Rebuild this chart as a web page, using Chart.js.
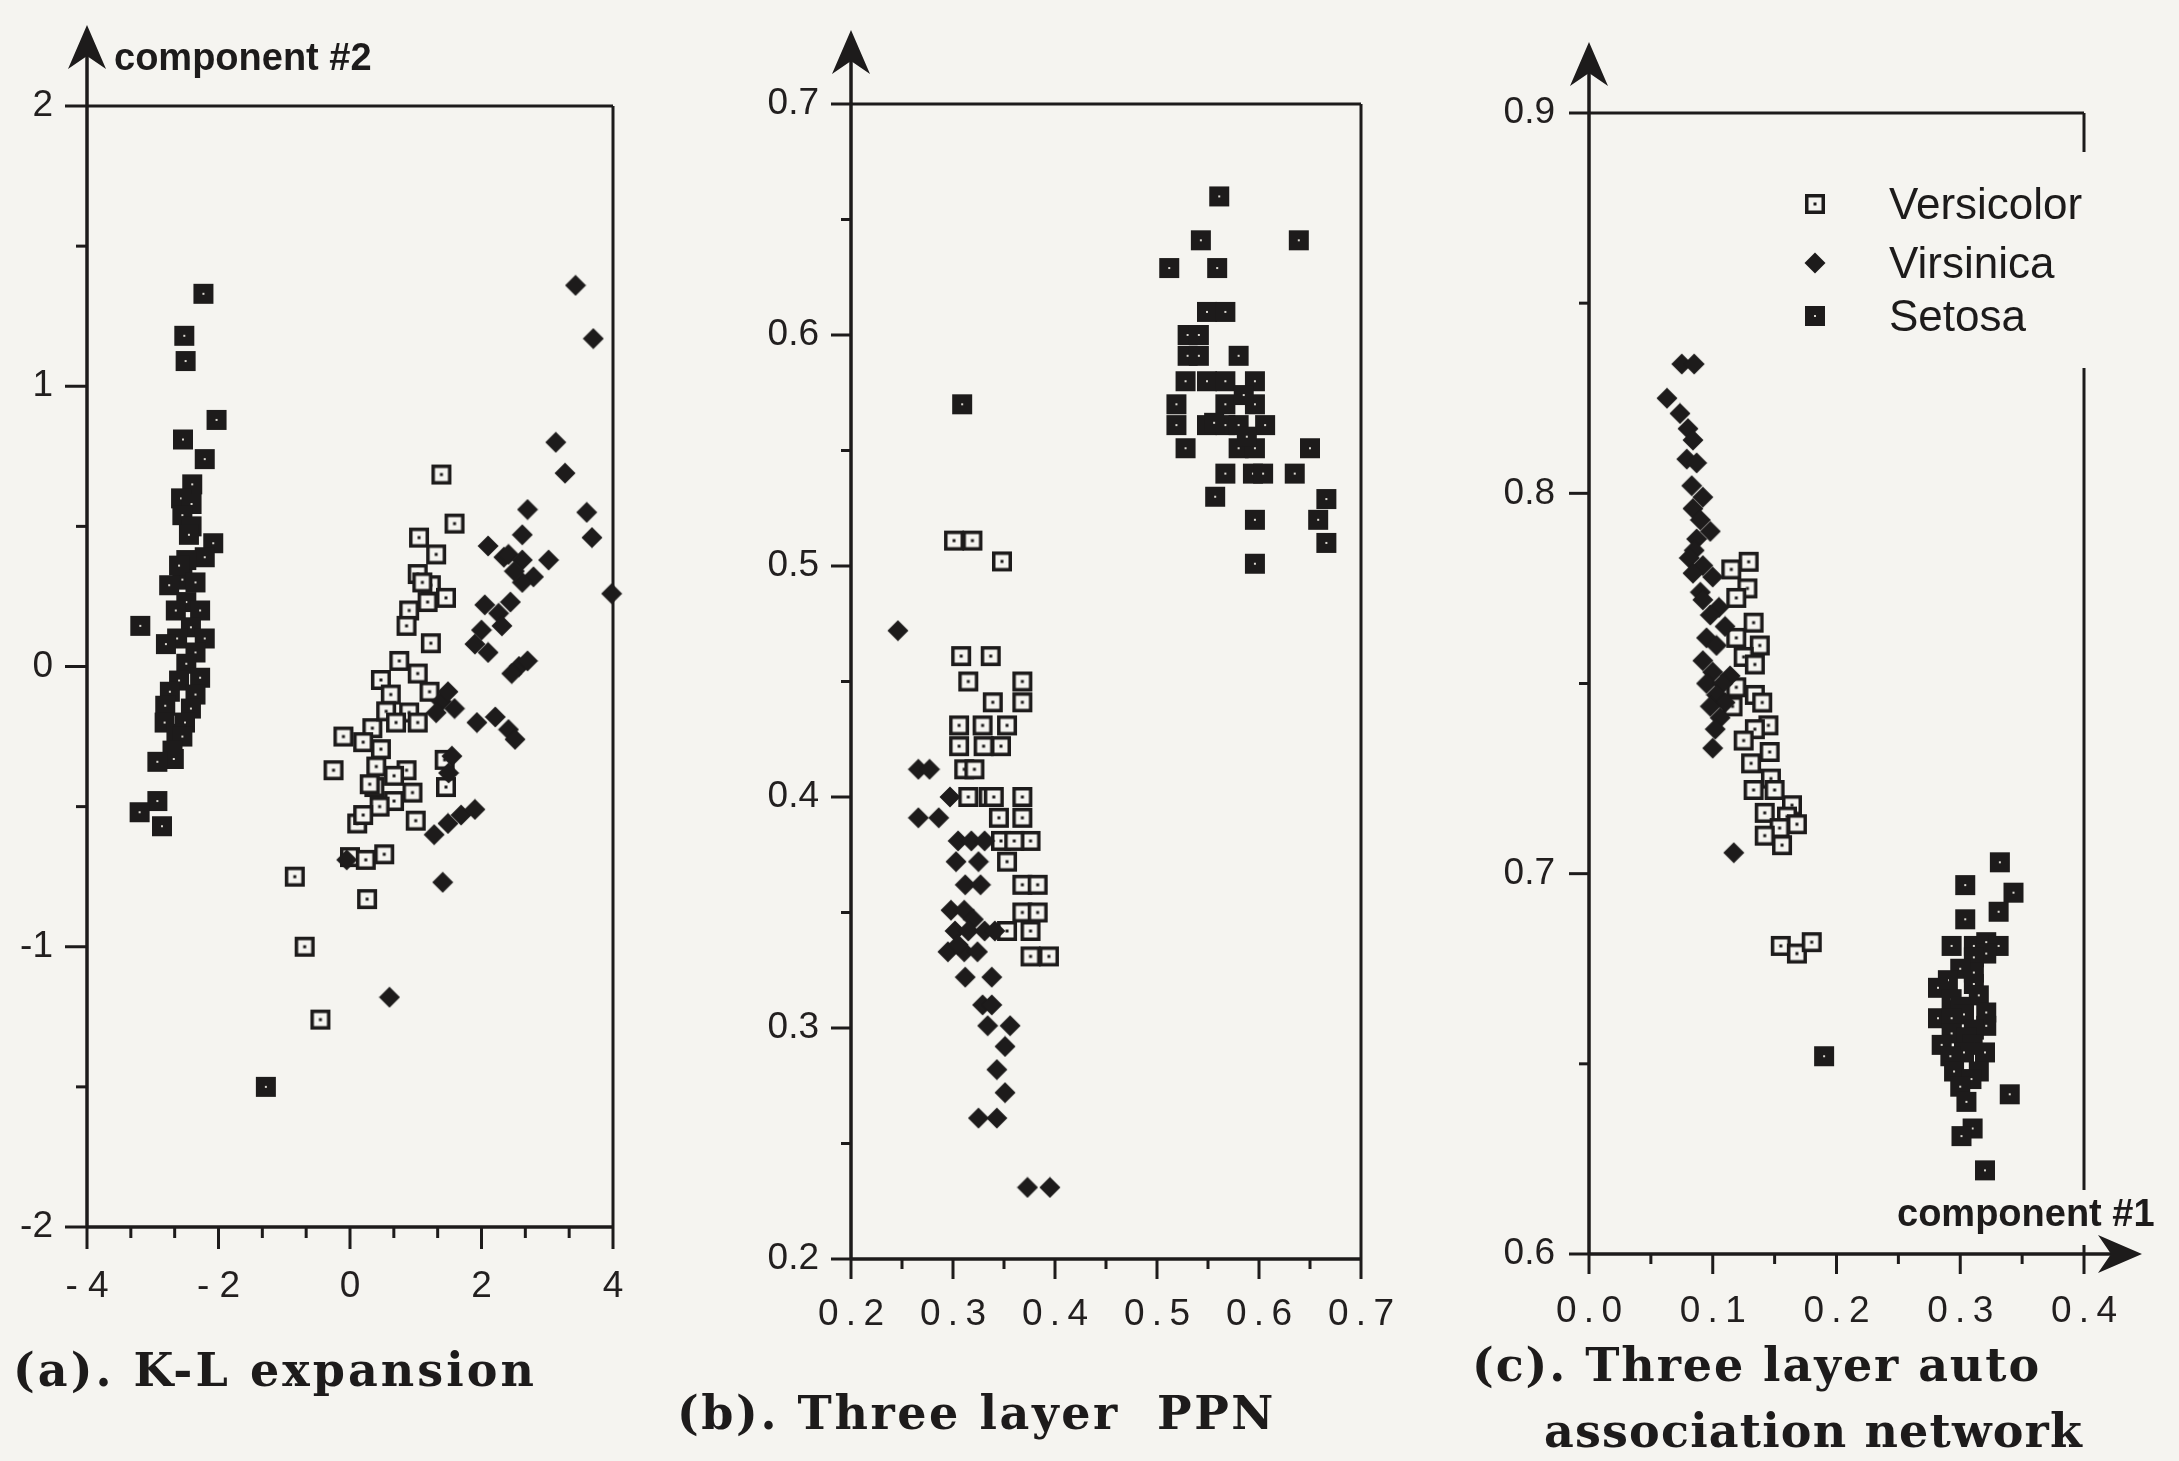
<!DOCTYPE html>
<html lang="en">
<head>
<meta charset="utf-8">
<title>Iris feature projections</title>
<script src="https://cdn.jsdelivr.net/npm/chart.js@4.4.1/dist/chart.umd.min.js"></script>
<style>
  html, body { margin: 0; padding: 0; background: #f5f4f0; }
  #page { position: relative; width: 2179px; height: 1461px; overflow: hidden; }
  #page canvas { position: absolute; left: 0; top: 0; }
  .caption { position: absolute; font-family: "DejaVu Serif", serif; font-weight: bold; font-size: 46px; color: #1d1b1b; white-space: pre; line-height: 1; }
  .axis-name { position: absolute; font-family: "Liberation Sans", Arial, sans-serif; font-weight: bold; font-size: 38px; color: #1d1b1b; white-space: pre; line-height: 1; }
</style>
</head>
<body>
<div id="page">
  <canvas id="chart-kl" width="2179" height="1461"></canvas>
  <canvas id="chart-ppn" width="2179" height="1461"></canvas>
  <canvas id="chart-aan" width="2179" height="1461"></canvas>
  <div class="axis-name" style="left:114px; top:38px;">component #2</div>
  <div class="axis-name" style="left:1897px; top:1194px;">component #1</div>
  <div class="caption" data-width="524" style="left:13px; top:1347px;">(a). K-L expansion</div>
  <div class="caption" data-width="599" style="left:677px; top:1390px;">(b). Three layer  PPN</div>
  <div class="caption" data-width="569" style="left:1472px; top:1342px;">(c). Three layer auto</div>
  <div class="caption" data-width="539" style="left:1544px; top:1408px;">association network</div>
</div>
<script>
const speciesNames = ["Versicolor", "Virsinica", "Setosa"];

// (a) K-L expansion
const klXTicks = [-4, -2, 0, 2, 4];
const klXLabels = ["- 4", "- 2", "0", "2", "4"];
const klYTicks = [-2, -1, 0, 1, 2];
const klYLabels = ["-2", "-1", "0", "1", "2"];

const klVersicolor = [
  [1.39, 0.685], [1.59, 0.51], [1.05, 0.46], [1.31, 0.40], [1.03, 0.33], [1.23, 0.29], [1.46, 0.245],
  [1.18, 0.23], [0.90, 0.20], [0.86, 0.145], [1.23, 0.083], [0.75, 0.02], [1.03, -0.025], [0.47, -0.048],
  [0.62, -0.10], [1.21, -0.09], [0.90, -0.164], [1.03, -0.20], [-0.10, -0.25], [0.34, -0.22], [0.47, -0.295],
  [-0.25, -0.37], [0.40, -0.357], [0.86, -0.37], [0.67, -0.39], [0.37, -0.43], [1.44, -0.333], [1.46, -0.43],
  [0.67, -0.48], [0.45, -0.50], [0.11, -0.56], [1.00, -0.55], [0.20, -0.53], [0.00, -0.68], [0.24, -0.69],
  [0.52, -0.67], [0.26, -0.83], [-0.84, -0.75], [-0.69, -1.00], [-0.45, -1.26], [0.20, -0.27], [0.30, -0.42],
  [0.55, -0.16], [0.70, -0.20], [0.95, -0.45], [1.10, 0.30]
];
const klVirginica = [
  [3.43, 1.36], [3.70, 1.17], [3.13, 0.80], [3.27, 0.69], [2.70, 0.56], [3.60, 0.55], [2.62, 0.47], [3.68, 0.46],
  [3.98, 0.26], [2.10, 0.43], [2.34, 0.39], [2.41, 0.40], [2.62, 0.38], [2.79, 0.32], [3.02, 0.38], [2.62, 0.30],
  [2.50, 0.34], [2.05, 0.22], [2.26, 0.19], [2.44, 0.23], [2.00, 0.13], [1.90, 0.08], [2.10, 0.05], [2.31, 0.145],
  [2.57, 0.00], [2.70, 0.02], [2.46, -0.025], [1.39, -0.125], [1.59, -0.15], [1.49, -0.09], [1.31, -0.165],
  [1.93, -0.20], [2.21, -0.18], [2.41, -0.225], [2.51, -0.26], [1.55, -0.32], [1.50, -0.38], [1.28, -0.60],
  [1.49, -0.56], [1.69, -0.53], [1.90, -0.51], [1.41, -0.77], [0.60, -1.18], [-0.05, -0.69]
];
const klSetosa = [
  [-2.23, 1.33], [-2.52, 1.18], [-2.50, 1.09], [-2.03, 0.88], [-2.54, 0.81], [-2.21, 0.74], [-2.40, 0.65],
  [-2.57, 0.60], [-2.41, 0.58], [-2.55, 0.54], [-2.41, 0.50], [-2.45, 0.47], [-2.08, 0.44], [-2.21, 0.39],
  [-2.49, 0.38], [-2.55, 0.31], [-2.60, 0.36], [-2.35, 0.30], [-2.75, 0.29], [-2.49, 0.23], [-2.28, 0.20],
  [-2.65, 0.20], [-3.19, 0.145], [-2.42, 0.14], [-2.63, 0.10], [-2.21, 0.10], [-2.80, 0.08], [-2.35, 0.05],
  [-2.49, 0.01], [-2.28, -0.04], [-2.60, -0.05], [-2.74, -0.09], [-2.35, -0.10], [-2.81, -0.14], [-2.42, -0.15],
  [-2.51, -0.20], [-2.82, -0.20], [-2.64, -0.24], [-2.55, -0.25], [-2.70, -0.30], [-2.68, -0.33], [-2.93, -0.34],
  [-2.93, -0.48], [-3.20, -0.52], [-2.86, -0.57], [-1.28, -1.50]
];

// (b) three layer PPN
const ppnXTicks = [0.2, 0.3, 0.4, 0.5, 0.6, 0.7];
const ppnXLabels = ["0.2", "0.3", "0.4", "0.5", "0.6", "0.7"];
const ppnYTicks = [0.2, 0.3, 0.4, 0.5, 0.6, 0.7];
const ppnYLabels = ["0.2", "0.3", "0.4", "0.5", "0.6", "0.7"];

const ppnVersicolor = [
  [0.308, 0.461], [0.337, 0.461], [0.315, 0.450], [0.368, 0.450], [0.339, 0.441], [0.368, 0.441], [0.306, 0.431],
  [0.329, 0.431], [0.353, 0.431], [0.306, 0.422], [0.330, 0.422], [0.347, 0.422], [0.311, 0.412], [0.321, 0.412],
  [0.315, 0.400], [0.335, 0.400], [0.340, 0.400], [0.368, 0.400], [0.345, 0.391], [0.368, 0.391], [0.347, 0.381],
  [0.376, 0.381], [0.360, 0.381], [0.353, 0.372], [0.368, 0.362], [0.383, 0.362], [0.368, 0.350], [0.383, 0.350],
  [0.353, 0.342], [0.376, 0.342], [0.376, 0.331], [0.394, 0.331], [0.301, 0.511], [0.319, 0.511], [0.348, 0.502]
];
const ppnVirginica = [
  [0.246, 0.472], [0.266, 0.412], [0.277, 0.412], [0.297, 0.400], [0.266, 0.391], [0.286, 0.391], [0.305, 0.381],
  [0.318, 0.381], [0.331, 0.381], [0.303, 0.372], [0.325, 0.372], [0.312, 0.362], [0.327, 0.362], [0.298, 0.351],
  [0.311, 0.351], [0.320, 0.347], [0.302, 0.342], [0.315, 0.342], [0.331, 0.342], [0.341, 0.342], [0.295, 0.333],
  [0.311, 0.333], [0.324, 0.333], [0.305, 0.336], [0.312, 0.322], [0.338, 0.322], [0.329, 0.310], [0.338, 0.310],
  [0.334, 0.301], [0.356, 0.301], [0.351, 0.292], [0.343, 0.282], [0.351, 0.272], [0.325, 0.261], [0.343, 0.261],
  [0.373, 0.231], [0.395, 0.231]
];
const ppnSetosa = [
  [0.561, 0.660], [0.543, 0.641], [0.639, 0.641], [0.512, 0.629], [0.559, 0.629], [0.549, 0.610], [0.567, 0.610],
  [0.530, 0.600], [0.541, 0.600], [0.530, 0.591], [0.541, 0.591], [0.580, 0.591], [0.528, 0.580], [0.549, 0.580],
  [0.567, 0.580], [0.596, 0.580], [0.519, 0.570], [0.567, 0.570], [0.596, 0.570], [0.585, 0.574], [0.519, 0.561],
  [0.549, 0.561], [0.567, 0.561], [0.580, 0.561], [0.606, 0.561], [0.556, 0.562], [0.528, 0.551], [0.580, 0.551],
  [0.596, 0.551], [0.588, 0.556], [0.650, 0.551], [0.567, 0.540], [0.594, 0.540], [0.604, 0.540], [0.635, 0.540],
  [0.557, 0.530], [0.596, 0.520], [0.666, 0.529], [0.658, 0.520], [0.666, 0.510], [0.596, 0.501], [0.309, 0.570]
];

// (c) three layer auto association network
const aanXTicks = [0, 0.1, 0.2, 0.3, 0.4];
const aanXLabels = ["0.0", "0.1", "0.2", "0.3", "0.4"];
const aanYTicks = [0.6, 0.7, 0.8, 0.9];
const aanYLabels = ["0.6", "0.7", "0.8", "0.9"];

const aanVersicolor = [
  [0.129, 0.782], [0.115, 0.780], [0.128, 0.775], [0.119, 0.7725], [0.133, 0.766], [0.119, 0.762], [0.138, 0.760],
  [0.125, 0.757], [0.134, 0.755], [0.119, 0.749], [0.134, 0.747], [0.140, 0.745], [0.116, 0.744], [0.145, 0.739],
  [0.134, 0.738], [0.125, 0.735], [0.146, 0.732], [0.131, 0.729], [0.147, 0.725], [0.133, 0.722], [0.150, 0.722],
  [0.164, 0.718], [0.142, 0.716], [0.160, 0.715], [0.168, 0.713], [0.154, 0.712], [0.142, 0.710], [0.156, 0.7075],
  [0.155, 0.681], [0.168, 0.679], [0.180, 0.682]
];
const aanVirginica = [
  [0.075, 0.834], [0.085, 0.834], [0.063, 0.825], [0.0735, 0.821], [0.080, 0.817], [0.084, 0.814], [0.079, 0.809],
  [0.087, 0.808], [0.083, 0.802], [0.092, 0.799], [0.084, 0.796], [0.090, 0.793], [0.098, 0.790], [0.087, 0.788],
  [0.085, 0.785], [0.081, 0.783], [0.092, 0.781], [0.084, 0.779], [0.100, 0.778], [0.090, 0.774], [0.092, 0.772],
  [0.105, 0.770], [0.098, 0.768], [0.110, 0.765], [0.095, 0.762], [0.103, 0.760], [0.092, 0.756], [0.100, 0.753],
  [0.114, 0.752], [0.095, 0.750], [0.108, 0.750], [0.103, 0.747], [0.110, 0.745], [0.098, 0.744], [0.106, 0.741],
  [0.102, 0.738], [0.100, 0.733], [0.117, 0.7055]
];
const aanSetosa = [
  [0.332, 0.703], [0.304, 0.697], [0.343, 0.695], [0.331, 0.690], [0.304, 0.688], [0.293, 0.681], [0.311, 0.681],
  [0.321, 0.682], [0.331, 0.681], [0.321, 0.679], [0.311, 0.678], [0.311, 0.674], [0.300, 0.675], [0.290, 0.672],
  [0.311, 0.671], [0.282, 0.670], [0.315, 0.668], [0.293, 0.667], [0.300, 0.665], [0.321, 0.6635], [0.303, 0.663],
  [0.282, 0.662], [0.293, 0.662], [0.321, 0.660], [0.311, 0.659], [0.293, 0.658], [0.305, 0.657], [0.310, 0.655],
  [0.285, 0.655], [0.303, 0.653], [0.320, 0.653], [0.292, 0.652], [0.295, 0.648], [0.315, 0.648], [0.309, 0.646],
  [0.300, 0.644], [0.340, 0.642], [0.305, 0.640], [0.310, 0.633], [0.301, 0.631], [0.320, 0.622], [0.190, 0.652]
];

(function () {
    const PAGE_W = 2179;
    const PAGE_H = 1461;
    const X_BOX = 110;
    const ink = "#1d1b1b";
    const paper = "#f5f4f0";
    const sans = "'Liberation Sans', Arial, sans-serif";

    function makeMarker(kind) {
        const c = document.createElement("canvas");
        c.width = 22;
        c.height = 22;
        const g = c.getContext("2d");
        g.fillStyle = ink;
        if (kind === "diamond") {
            g.beginPath();
            g.moveTo(11, 0.5);
            g.lineTo(21.5, 11);
            g.lineTo(11, 21.5);
            g.lineTo(0.5, 11);
            g.closePath();
            g.fill();
            return c;
        }
        g.fillRect(1, 1, 20, 20);
        if (kind === "open") {
            g.fillStyle = paper;
            g.fillRect(4.5, 4.5, 13, 13);
            g.fillStyle = ink;
            g.fillRect(9.5, 9.5, 3, 3);
        } else {
            g.fillStyle = "#d9d6cf";
            g.fillRect(10, 10, 2, 2);
        }
        return c;
    }

    const markers = { open: makeMarker("open"), diamond: makeMarker("diamond"), solid: makeMarker("solid") };
    const legendMarkers = ["open", "diamond", "solid"];

    // frame, ticks, arrows and legend drawn in the style of the printed figure
    const paperAxes = {
        id: "paperAxes",
        beforeDatasetsDraw(chart, args, opts) {
            const ctx = chart.ctx;
            const a = chart.chartArea;
            const xs = chart.scales.x;
            const ys = chart.scales.y;
            const line = (x0, y0, x1, y1) => { ctx.beginPath(); ctx.moveTo(x0, y0); ctx.lineTo(x1, y1); ctx.stroke(); };

            ctx.save();
            ctx.strokeStyle = ink;
            ctx.fillStyle = ink;

            ctx.lineWidth = 3;
            line(a.left, a.top, a.right, a.top);
            opts.rightSegments.forEach(([y0, y1]) => line(a.right, y0 < 0 ? a.top : y0, a.right, y1 < 0 ? a.bottom : y1));

            ctx.lineWidth = 3.5;
            line(a.left, opts.yArrowTip + 30, a.left, a.bottom);
            line(a.left, a.bottom, opts.xArrowTip > 0 ? opts.xArrowTip - 30 : a.right, a.bottom);

            ctx.lineWidth = 3;
            const tickRun = (scale, step, majors, draw) => {
                const steps = Math.round((scale.max - scale.min) / step);
                for (let k = 0; k <= steps; k++) {
                    const v = scale.min + k * step;
                    const major = majors.some(m => Math.abs(m - v) < step / 10);
                    draw(scale.getPixelForValue(v), major ? opts.majorTick : opts.minorTick);
                }
            };
            tickRun(xs, opts.xMinorStep, opts.xMajors, (p, len) => line(p, a.bottom, p, a.bottom + len));
            tickRun(ys, opts.yMinorStep, opts.yMajors, (p, len) => line(a.left - len, p, a.left, p));
            if (opts.rightTickUp > 0) {
                line(a.right, a.bottom - opts.rightTickUp, a.right, a.bottom);
            }

            // arrow heads
            ctx.beginPath();
            ctx.moveTo(a.left, opts.yArrowTip);
            ctx.lineTo(a.left + 19, opts.yArrowTip + 44);
            ctx.lineTo(a.left, opts.yArrowTip + 31);
            ctx.lineTo(a.left - 19, opts.yArrowTip + 44);
            ctx.closePath();
            ctx.fill();
            if (opts.xArrowTip > 0) {
                ctx.beginPath();
                ctx.moveTo(opts.xArrowTip, a.bottom);
                ctx.lineTo(opts.xArrowTip - 44, a.bottom - 19);
                ctx.lineTo(opts.xArrowTip - 31, a.bottom);
                ctx.lineTo(opts.xArrowTip - 44, a.bottom + 19);
                ctx.closePath();
                ctx.fill();
            }
            ctx.restore();
        },
        afterDraw(chart, args, opts) {
            if (!opts.legendRows) return;
            const ctx = chart.ctx;
            ctx.save();
            ctx.fillStyle = ink;
            ctx.font = "44px " + sans;
            ctx.textBaseline = "middle";
            ctx.textAlign = "left";
            opts.legendRows.forEach((y, i) => {
                const m = markers[legendMarkers[i]];
                ctx.drawImage(m, opts.legendMarkerX - m.width / 2, y - m.height / 2);
                ctx.fillText(speciesNames[i], opts.legendTextX, y + 3);
            });
            ctx.restore();
        }
    };

    function spaced(label) {
        return label.split("").join("\u2009");
    }

    function axisOptions(values, labels, horizontal, gap, box) {
        return {
            type: "linear",
            min: values[0],
            max: values[values.length - 1],
            afterBuildTicks: scale => { scale.ticks = values.map(value => ({ value })); },
            afterFit: scale => {
                if (horizontal) scale.height = box; else scale.width = box;
            },
            grid: { display: false, drawTicks: false },
            border: { display: false },
            ticks: {
                autoSkip: false,
                maxRotation: 0,
                minRotation: 0,
                padding: gap,
                color: "#221f1f",
                font: { family: sans, size: 37 },
                callback: (value, index) => labels[index]
            }
        };
    }

    function buildPanel(canvasId, layout, axes, series) {
        const area = layout.area;
        return new Chart(document.getElementById(canvasId), {
            type: "scatter",
            data: {
                datasets: series.map(s => ({
                    label: s.name,
                    data: s.points.map(([x, y]) => ({ x, y })),
                    pointStyle: markers[s.marker],
                    pointRadius: 10,
                    pointHoverRadius: 10,
                    order: s.order,
                    clip: false
                }))
            },
            options: {
                responsive: false,
                animation: false,
                devicePixelRatio: 1,
                events: [],
                layout: {
                    padding: {
                        left: area.left - layout.yBox,
                        right: PAGE_W - area.right,
                        top: area.top,
                        bottom: PAGE_H - area.bottom - X_BOX
                    }
                },
                plugins: {
                    legend: { display: false },
                    tooltip: { enabled: false },
                    paperAxes: layout.axes
                },
                scales: {
                    x: axisOptions(axes.xTicks, axes.xLabels, true, layout.xGap, X_BOX),
                    y: axisOptions(axes.yTicks, axes.yLabels, false, layout.yGap, layout.yBox)
                }
            },
            plugins: [paperAxes]
        });
    }

    function speciesSeries(versicolor, virginica, setosa) {
        return [
            { name: speciesNames[0], points: versicolor, marker: "open", order: 2 },
            { name: speciesNames[2], points: setosa, marker: "solid", order: 1 },
            { name: speciesNames[1], points: virginica, marker: "diamond", order: 0 }
        ];
    }

    buildPanel("chart-kl", {
        area: { left: 87, right: 613, top: 106, bottom: 1227 },
        xGap: 38, yGap: 34, yBox: 82,
        axes: {
            yArrowTip: 25, xArrowTip: 0, majorTick: 22, minorTick: 11, rightTickUp: 0,
            xMinorStep: 2 / 3, yMinorStep: 0.5, xMajors: klXTicks, yMajors: klYTicks,
            rightSegments: [[-1, -1]]
        }
    }, { xTicks: klXTicks, xLabels: klXLabels, yTicks: klYTicks, yLabels: klYLabels },
    speciesSeries(klVersicolor, klVirginica, klSetosa));

    buildPanel("chart-ppn", {
        area: { left: 851, right: 1361, top: 104, bottom: 1259 },
        xGap: 34, yGap: 32, yBox: 120,
        axes: {
            yArrowTip: 30, xArrowTip: 0, majorTick: 20, minorTick: 10, rightTickUp: 0,
            xMinorStep: 0.05, yMinorStep: 0.05, xMajors: ppnXTicks, yMajors: ppnYTicks,
            rightSegments: [[-1, -1]]
        }
    }, { xTicks: ppnXTicks, xLabels: ppnXLabels.map(spaced), yTicks: ppnYTicks, yLabels: ppnYLabels },
    speciesSeries(ppnVersicolor, ppnVirginica, ppnSetosa));

    buildPanel("chart-aan", {
        area: { left: 1589, right: 2084, top: 113, bottom: 1254 },
        xGap: 36, yGap: 34, yBox: 120,
        axes: {
            yArrowTip: 42, xArrowTip: 2142, majorTick: 20, minorTick: 10, rightTickUp: 9,
            xMinorStep: 0.05, yMinorStep: 0.05, xMajors: aanXTicks, yMajors: aanYTicks,
            rightSegments: [[-1, 152], [368, 1190]],
            legendRows: [204, 263, 316], legendMarkerX: 1815, legendTextX: 1889
        }
    }, { xTicks: aanXTicks, xLabels: aanXLabels.map(spaced), yTicks: aanYTicks, yLabels: aanYLabels },
    speciesSeries(aanVersicolor, aanVirginica, aanSetosa));

    // stretch each caption to the printed width
    document.querySelectorAll(".caption").forEach(el => {
        const target = Number(el.dataset.width);
        const natural = el.getBoundingClientRect().width;
        el.style.letterSpacing = ((target - natural) / el.textContent.length) + "px";
    });
})();
</script>
</body>
</html>
